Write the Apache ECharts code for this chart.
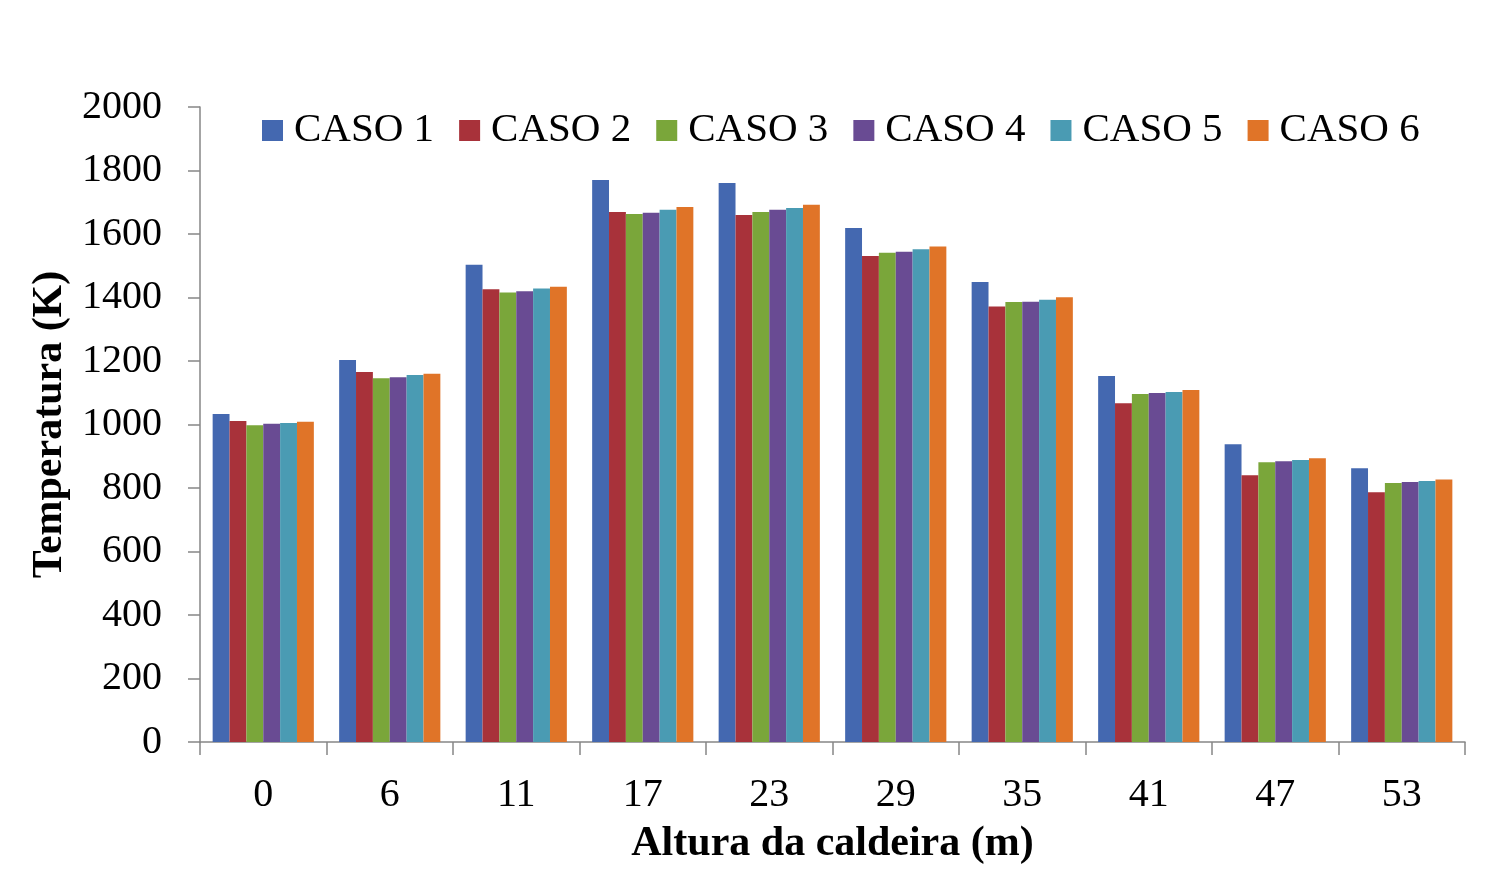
<!DOCTYPE html>
<html><head><meta charset="utf-8">
<script src="https://cdn.jsdelivr.net/npm/echarts@6/dist/echarts.min.js"></script>
<style>html,body{margin:0;padding:0;background:#fff;overflow:hidden}#c{width:1491px;height:870px}</style>
</head><body><div id="c"></div>
<script>
const categories = ['0','6','11','17','23','29','35','41','47','53'];
const caso1 = [1033,1203,1503,1770,1761,1619,1449,1153,938,862];
const caso2 = [1011,1165,1426,1669,1660,1531,1372,1067,840,787];
const caso3 = [998,1146,1416,1663,1669,1541,1386,1096,881,816];
const caso4 = [1002,1149,1420,1667,1676,1544,1387,1099,884,819];
const caso5 = [1005,1156,1428,1676,1682,1552,1393,1102,888,822];
const caso6 = [1009,1160,1434,1685,1692,1561,1401,1109,894,827];
const seriesNames = ['CASO 1','CASO 2','CASO 3','CASO 4','CASO 5','CASO 6'];
const seriesData = [caso1,caso2,caso3,caso4,caso5,caso6];
const colors = ['#4468B0','#A8323A','#7AA63A','#694B93','#4A9BB3','#E07428'];
const font = '"Liberation Serif","Times New Roman",serif';
const chart = echarts.init(document.getElementById('c'));
chart.setOption({
  animation:false,
  color:colors,
  textStyle:{fontFamily:font},
  legend:{
    top:105, left:257, itemWidth:21, itemHeight:21, itemGap:25,
    icon:'rect',
    textStyle:{fontFamily:font,fontSize:41,color:'#000',padding:[0,0,0,6]},
    data:seriesNames
  },
  grid:{left:200,right:26,top:107,bottom:128,containLabel:false},
  xAxis:{
    type:'category', data:categories,
    axisLine:{lineStyle:{color:'#868686',width:1.5}},
    axisTick:{show:true,length:13,lineStyle:{color:'#868686',width:1.5}},
    axisLabel:{fontFamily:font,fontSize:40,color:'#000',margin:33},
    name:'Altura da caldeira (m)', nameLocation:'middle', nameGap:81,
    nameTextStyle:{fontFamily:font,fontSize:42,fontWeight:'bold',color:'#000'}
  },
  yAxis:{
    type:'value', min:0, max:2000, interval:200,
    splitLine:{show:false},
    axisLine:{show:true,lineStyle:{color:'#868686',width:1.5}},
    axisTick:{show:true,length:12,inside:false,lineStyle:{color:'#868686',width:1.5}},
    axisLabel:{fontFamily:font,fontSize:40,color:'#000',margin:38,formatter:v=>String(v)},
    name:'Temperatura (K)', nameLocation:'middle', nameGap:127, nameRotate:90,
    nameTextStyle:{fontFamily:font,fontSize:42,fontWeight:'bold',color:'#000'}
  },
  series: seriesNames.map((n,i)=>({
    name:n, type:'bar', data:seriesData[i],
    barGap:'0%', barCategoryGap:'20%',
    itemStyle:{color:colors[i]}
  }))
});
</script></body></html>
